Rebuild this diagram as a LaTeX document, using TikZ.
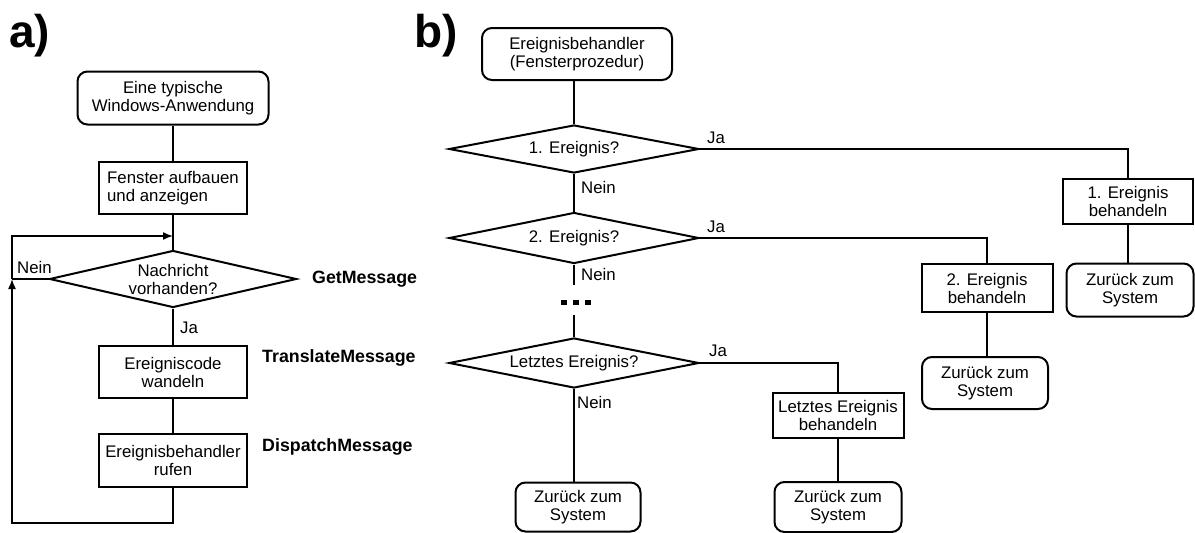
\documentclass[tikz,border=0pt]{standalone}
\usepackage{fontspec}
\setmainfont{Liberation Sans}
\usepackage{tikz}
\usetikzlibrary{arrows.meta, positioning, shapes.geometric}

\begin{document}
\begin{tikzpicture}[x=1pt,y=-1pt,
    txt/.style={font=\fontsize{16.8}{18}\selectfont},
    proc/.style={draw,line width=2pt,inner sep=0pt,align=center,txt},
    term/.style={proc,rounded corners=10pt},
    ask/.style={draw,diamond,aspect=5,line width=2pt,inner sep=0pt,align=center,txt},
    lbl/.style={anchor=west,inner sep=0pt,txt},
    api/.style={anchor=west,inner sep=0pt,font=\fontsize{17.8}{20}\selectfont\bfseries},
    head/.style={anchor=base west,inner sep=0pt,font=\fontsize{46}{46}\selectfont\bfseries},
    flow/.style={line width=1.5pt},
    back/.style={flow,-{Latex[length=10pt,width=8pt]}}]
    \useasboundingbox (0,0) rectangle (1195,533);

    % First diagram (message loop)
    \node[head] (pa) at (9,47) {a)};
    \node[term,minimum width=191,minimum height=53] (start) at (173,98) {Eine typische\\Windows-Anwendung};
    \node[proc,minimum width=148,minimum height=52,align=left] (build) at (173,188) {Fenster aufbauen\\und anzeigen};
    \node[ask,minimum width=247,minimum height=57] (check) at (173,279) {Nachricht\\vorhanden?};
    \node[proc,minimum width=148,minimum height=52] (translate) at (173,372) {Ereigniscode\\wandeln};
    \node[proc,minimum width=148,minimum height=53] (dispatch) at (173,460) {Ereignisbehandler\\rufen};

    \draw[flow] (start) -- (build);
    \draw[flow] (build) -- (check);
    \draw[flow] (check) -- (translate);
    \draw[flow] (translate) -- (dispatch);

    % loop back to the message check
    \coordinate (corner) at (12,523);
    \coordinate (join) at (12,279);
    \coordinate (entry) at (173,236);
    \draw[flow] (check.west) -- (join);
    \draw[back] (dispatch.south) |- (corner) -- (join);
    \draw[back] (join) |- (entry);

    \node[lbl] (nein0) at (17,267) {Nein};
    \node[lbl] (ja0) at (180,328) {Ja};

    % API calls to the right
    \node[api] (getmsg) at (312,279) {GetMessage};
    \node[api] (transmsg) at (262,358) {TranslateMessage};
    \node[api] (dispmsg) at (262,447) {DispatchMessage};

    % Second diagram (event handler)
    \node[head] (pb) at (414,47) {b)};
    \node[term,minimum width=190,minimum height=52] (handler) at (577,54) {Ereignisbehandler\\(Fensterprozedur)};
    \node[ask,minimum width=250,minimum height=48] (q1) at (574,149) {1. Ereignis?};
    \node[ask,minimum width=250,minimum height=51] (q2) at (574,238) {2. Ereignis?};
    \node[inner sep=0pt,minimum width=30,minimum height=30] (dots) at (575,300) {};
    \foreach \dx in {564,576,588}
        \fill (\dx-2.6,299.8) rectangle +(5.2,5.2);
    \node[ask,minimum width=250,minimum height=50] (q3) at (574,363) {Letztes Ereignis?};
    \node[term,minimum width=125,minimum height=49] (stopN) at (578,507) {Zurück zum\\System};

    \node[proc,minimum width=130,minimum height=45] (do1) at (1128,201) {1. Ereignis\\behandeln};
    \node[term,minimum width=127,minimum height=53] (stop1) at (1130,290) {Zurück zum\\System};
    \node[proc,minimum width=131,minimum height=48] (do2) at (987,288) {2. Ereignis\\behandeln};
    \node[term,minimum width=126,minimum height=52] (stop2) at (985,383) {Zurück zum\\System};
    \node[proc,minimum width=131,minimum height=45] (doL) at (838,415) {Letztes Ereignis\\behandeln};
    \node[term,minimum width=127,minimum height=50] (stopL) at (838,507) {Zurück zum\\System};

    \draw[flow] (q1.north |- handler.south) -- (q1.north);
    \draw[flow] (q1) -- (q2);
    \draw[flow] (q2) -- (q2.south |- dots.north);
    \draw[flow] (q3.north |- dots.south) -- (q3);
    \draw[flow] (q3.south) -- (q3.south |- stopN.north);

    \draw[flow] (q1.east) -| (do1.north);
    \draw[flow] (do1.south) -- (do1.south |- stop1.north);
    \draw[flow] (q2.east) -| (do2.north);
    \draw[flow] (do2.south) -- (do2.south |- stop2.north);
    \draw[flow] (q3.east) -| (doL.north);
    \draw[flow] (doL.south) -- (doL.south |- stopL.north);

    \node[lbl] (ja1) at (707,138) {Ja};
    \node[lbl] (nein1) at (581,187) {Nein};
    \node[lbl] (ja2) at (707,227) {Ja};
    \node[lbl] (nein2) at (581,274) {Nein};
    \node[lbl] (ja3) at (709,351) {Ja};
    \node[lbl] (nein3) at (577,402) {Nein};
\end{tikzpicture}
\end{document}
